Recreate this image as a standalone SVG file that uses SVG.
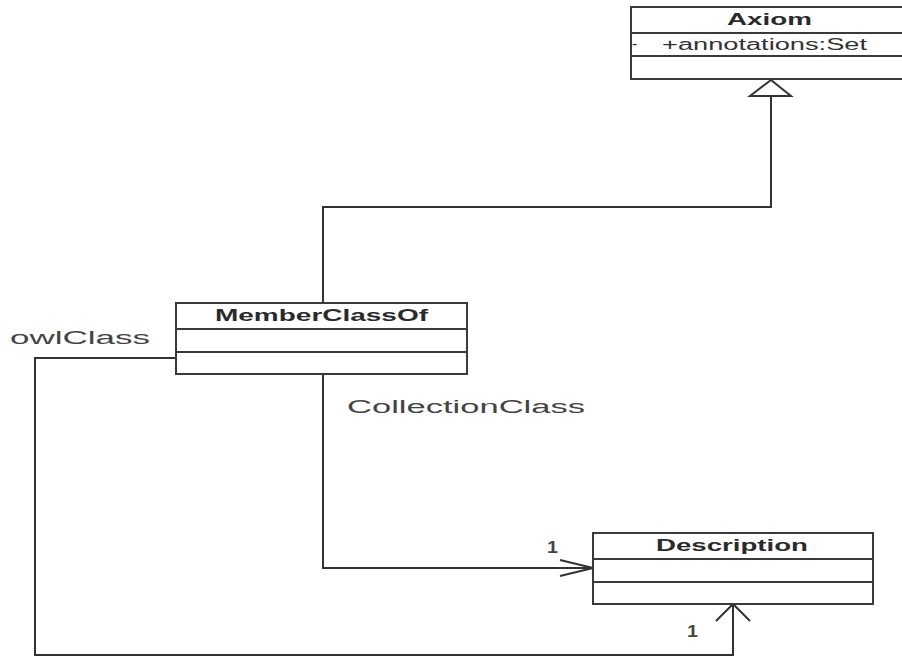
<svg xmlns="http://www.w3.org/2000/svg" width="902" height="657" viewBox="0 0 902 657">
<style>
.box{fill:#fff;stroke:#3a3a3a;stroke-width:2}
.sep{stroke:#3a3a3a;stroke-width:2}
.title{font-family:"Liberation Sans",Arial,sans-serif;font-weight:bold;font-size:17px;fill:#2a2a2a}
.attr{font-family:"Liberation Sans",Arial,sans-serif;font-size:16px;fill:#333}
.lbl{font-family:"Liberation Sans",Arial,sans-serif;font-size:18px;fill:#444}
.num{font-family:"Liberation Sans",Arial,sans-serif;font-size:17px;font-weight:bold;fill:#444}
.conn{fill:none;stroke:#333;stroke-width:2}
.head{fill:#fff;stroke:#333;stroke-width:2}
</style>
<rect width="902" height="657" fill="#fff"/>
<g id="connectors">
  <polyline class="conn" points="323,303 323,207 771,207 771,96"/>
  <polygon class="head" points="771,80 750,96 791,96"/>
  <polyline class="conn" points="323,374 323,568 593,568"/>
  <polyline class="conn" points="560,560 593,568 560,576"/>
  <polyline class="conn" points="176,358 35,358 35,655 733,655 733,604"/>
  <polyline class="conn" points="716,621 733,604 750,621"/>
  <text class="lbl" x="10" y="344" textLength="140" lengthAdjust="spacingAndGlyphs">owlClass</text>
  <text class="lbl" x="347" y="413" textLength="238" lengthAdjust="spacingAndGlyphs">CollectionClass</text>
  <text class="num" x="547" y="553" textLength="11" lengthAdjust="spacingAndGlyphs">1</text>
  <text class="num" x="687" y="637" textLength="11" lengthAdjust="spacingAndGlyphs">1</text>
</g>
<g id="Axiom">
  <rect class="box" x="631" y="7" width="290" height="72"/>
  <line class="sep" x1="631" y1="33" x2="902" y2="33"/>
  <line class="sep" x1="631" y1="56" x2="902" y2="56"/>
  <text class="title" x="727" y="25" textLength="85" lengthAdjust="spacingAndGlyphs">Axiom</text>
  <text class="attr" x="632" y="49">-</text>
  <text class="attr" x="662" y="50" textLength="205" lengthAdjust="spacingAndGlyphs">+annotations:Set</text>
</g>
<g id="MemberClassOf">
  <rect class="box" x="176" y="303" width="291" height="71"/>
  <line class="sep" x1="176" y1="329" x2="467" y2="329"/>
  <line class="sep" x1="176" y1="352" x2="467" y2="352"/>
  <text class="title" x="215" y="321" textLength="213" lengthAdjust="spacingAndGlyphs">MemberClassOf</text>
</g>
<g id="Description">
  <rect class="box" x="593" y="533" width="280" height="71"/>
  <line class="sep" x1="593" y1="559" x2="873" y2="559"/>
  <line class="sep" x1="593" y1="582" x2="873" y2="582"/>
  <text class="title" x="656" y="551" textLength="152" lengthAdjust="spacingAndGlyphs">Description</text>
</g>
</svg>
